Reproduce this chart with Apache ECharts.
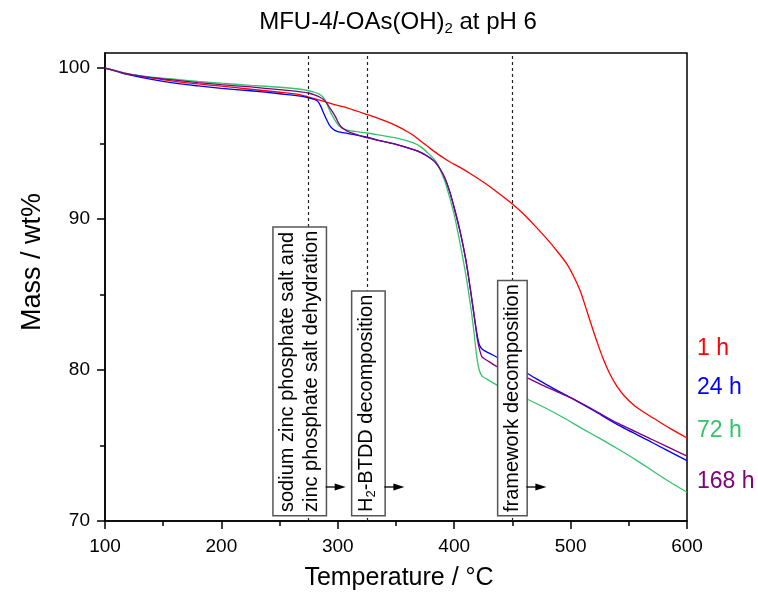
<!DOCTYPE html>
<html>
<head>
<meta charset="utf-8">
<script src="https://cdn.jsdelivr.net/npm/echarts@6/dist/echarts.min.js"></script>
<style>html,body{margin:0;padding:0;background:#fff}#c{width:758px;height:594px}</style>
</head>
<body>
<div id="c"></div>
<script>
// ---------- data ----------
const seriesNames = ['1 h', '24 h', '72 h', '168 h'];

const mass1h = [[100,100],[110,99.8],[120,99.62],[140,99.35],[160,99.12],[180,98.95],[200,98.8],[225,98.6],[250,98.4],[265,98.27],[275,98.08],[285,97.87],[295,97.63],[308,97.37],[325,96.93],[340,96.52],[351,96.16],[360,95.78],[366,95.48],[372,95.12],[379,94.7],[386,94.3],[395,93.85],[405,93.42],[414,93.0],[425,92.45],[437,91.78],[450,91.0],[460,90.3],[470,89.5],[480,88.65],[490,87.72],[497,87.0],[503,86.15],[508,85.3],[513,84.15],[518,82.95],[523,81.8],[528,80.75],[534,79.7],[540,78.9],[546,78.3],[554,77.7],[562,77.25],[571,76.82],[585,76.15],[600,75.5]];

const mass24h = [[100,100],[110,99.78],[120,99.57],[140,99.25],[160,99.0],[180,98.82],[200,98.66],[225,98.5],[250,98.3],[268,98.15],[275,98.03],[280,97.92],[283,97.78],[285.5,97.45],[287.5,97.08],[290,96.65],[293,96.2],[296,95.95],[300,95.8],[308,95.68],[325,95.43],[336,95.2],[350,94.95],[365,94.6],[372,94.38],[379,94.06],[384,93.75],[388,93.3],[392,92.7],[396,91.85],[400,90.75],[405,89.2],[410,87.3],[414,85.3],[417.5,83.4],[420,82.2],[422,81.6],[425,81.32],[430,81.12],[438,80.8],[450,80.3],[462,79.8],[480,79.0],[500,78.17],[520,77.3],[540,76.4],[570,75.2],[600,74.0]];

const mass72h = [[100,100],[110,99.8],[120,99.62],[140,99.4],[160,99.26],[180,99.12],[200,99.0],[225,98.86],[250,98.73],[268,98.6],[275,98.5],[280,98.4],[284,98.28],[287,98.1],[289,97.9],[291,97.55],[293.3,97.15],[296,96.75],[299,96.38],[302,96.12],[305,95.98],[310,95.86],[325,95.7],[336,95.56],[350,95.38],[365,95.05],[372,94.75],[379,94.25],[384,93.85],[388,93.25],[392,92.5],[396,91.45],[400,90.3],[405,88.4],[410,86.3],[414,84.3],[417,82.5],[419.5,80.8],[421.5,80.0],[424,79.6],[428,79.4],[438,78.95],[450,78.5],[462,78.1],[478,77.5],[494,76.84],[510,76.12],[525,75.47],[540,74.8],[556,74.05],[571,73.3],[585,72.6],[600,71.9]];

const mass168h = [[100,100],[110,99.8],[120,99.6],[140,99.37],[160,99.2],[180,99.04],[200,98.9],[225,98.75],[250,98.57],[268,98.43],[275,98.35],[280,98.22],[285,98.05],[288,97.9],[290.5,97.68],[293,97.38],[296,97.04],[298.5,96.7],[300.5,96.38],[303,96.1],[305.5,95.95],[308,95.83],[315,95.62],[322,95.45],[336,95.2],[350,94.95],[365,94.6],[372,94.38],[379,94.06],[384,93.75],[388,93.3],[392,92.7],[396,91.85],[400,90.75],[405,89.2],[410,87.3],[414,85.3],[417.5,83.4],[420,82.0],[422,81.3],[424,80.85],[428,80.65],[438,80.17],[450,79.85],[462,79.5],[480,78.85],[500,78.17],[520,77.35],[540,76.5],[570,75.4],[600,74.3]];

const yTicks = [70, 80, 90, 100];
const yMinorTicks = [75, 85, 95];
const eventTemps = [275, 325, 450];
const eventTexts = [
  'sodium zinc phosphate salt and\nzinc phosphate salt dehydration',
  '{n|H}{s|2}{n|-BTDD decomposition}',
  'framework decomposition'
];

// ---------- styles / layout ----------
const FONT = "'Liberation Sans', Arial, Helvetica, sans-serif";
const colors = ['#ff0000', '#0000ff', '#33c46a', '#800080'];
const seriesData = [mass1h, mass24h, mass72h, mass168h];
const boxOffsets = [-9, 1.5, 0];
const boxPads = [[2,3,2,3],[2,3,6,3],[2,3,2,3]];
const boxLines = [2, 1, 1];
const labelY = [349, 388, 431, 482];

const chart = echarts.init(document.getElementById('c'), null, {renderer: 'canvas'});

const axisCommon = {
  axisLine: {show: true, onZero: false, lineStyle: {color: '#000', width: 1.5}},
  splitLine: {show: false}
};

chart.setOption({
  animation: false,
  grid: {left: 105, right: 71, top: 53, bottom: 73, containLabel: false, outerBoundsMode: 'none',
         show: true, borderColor: '#000', borderWidth: 1.5},
  xAxis: Object.assign({
    type: 'value', min: 100, max: 600, interval: 100,
    name: 'Temperature / °C', nameLocation: 'middle', nameGap: 45,
    nameTextStyle: {fontSize: 25, color: '#000', fontFamily: FONT, padding: [0, 0, 0, 6]},
    axisTick: {show: true, length: 8, lineStyle: {color: '#000', width: 1.5}},
    minorTick: {show: true, splitNumber: 2, length: 5, lineStyle: {color: '#000', width: 1.5}},
    axisLabel: {fontSize: 19, color: '#000', margin: 16, fontFamily: FONT}
  }, axisCommon),
  yAxis: [
    Object.assign({
      type: 'value', min: 70, max: 101, interval: 10,
      axisTick: {show: true, length: 8, customValues: yTicks, lineStyle: {color: '#000', width: 1.5}},
      axisLabel: {fontSize: 19, color: '#000', margin: 15, fontFamily: FONT, customValues: yTicks}
    }, axisCommon),
    {
      type: 'value', min: 70, max: 101, position: 'left',
      axisLine: {show: false},
      axisLabel: {show: false},
      splitLine: {show: false},
      axisTick: {show: true, length: 5, customValues: yMinorTicks, lineStyle: {color: '#000', width: 1.5}}
    }
  ],
  series: seriesData.map((d, i) => ({
    type: 'line', name: seriesNames[i], data: d, yAxisIndex: 0,
    symbol: 'none', showSymbol: false, silent: true,
    smooth: 0.25,
    lineStyle: {color: colors[i], width: 1.3},
    z: 2 + i,
    markLine: i === 0 ? {
      silent: true, symbol: ['none', 'none'], label: {show: false},
      lineStyle: {color: '#222', type: [3, 3], width: 1.2},
      data: eventTemps.map(t => ({xAxis: t}))
    } : undefined
  }))
});

// ---------- annotations ----------
const baseY = chart.convertToPixel({yAxisIndex: 0}, 70);
const g = [];
eventTemps.forEach((t, i) => {
  const lx = chart.convertToPixel({xAxisIndex: 0}, t);
  const cx = lx + boxOffsets[i];
  const by = baseY - 6;
  const pad = boxPads[i];
  const w = boxLines[i] * 24 + pad[0] + pad[2];
  g.push({
    type: 'text', x: cx, y: by, rotation: Math.PI / 2, z: 100, silent: true,
    style: {
      text: eventTexts[i],
      fill: '#000', fontSize: 20, fontFamily: FONT, lineHeight: 24,
      align: 'left', verticalAlign: 'middle',
      backgroundColor: '#fff', borderColor: '#555', borderWidth: 1.5,
      padding: pad,
      rich: {
        n: {fontSize: 20, fontFamily: FONT, lineHeight: 24, fill: '#000'},
        s: {fontSize: 13, fontFamily: FONT, lineHeight: 17, verticalAlign: 'bottom', fill: '#000'}
      }
    }
  });
  const ay = baseY - 34;
  const x0 = cx + w / 2;
  const tip = x0 + 20;
  g.push({type: 'line', z: 100, silent: true, shape: {x1: x0, y1: ay, x2: tip - 9, y2: ay}, style: {stroke: '#000', lineWidth: 1.3}});
  g.push({type: 'polygon', z: 100, silent: true, shape: {points: [[tip, ay], [tip - 11, ay - 3.5], [tip - 11, ay + 3.5]]}, style: {fill: '#000'}});
});

// y axis title
g.push({type: 'text', x: 33, y: 262, rotation: Math.PI / 2, z: 100, silent: true,
  style: {text: 'Mass / wt%', fill: '#000', fontSize: 27, fontFamily: FONT, align: 'center', verticalAlign: 'middle'}});

// curve labels
seriesNames.forEach((n, i) => {
  g.push({type: 'text', x: 697, y: labelY[i], z: 100, silent: true,
    style: {text: n, fill: colors[i], fontSize: 23, fontFamily: FONT, align: 'left', verticalAlign: 'middle'}});
});

// title
g.push({type: 'text', x: 398, y: 22, z: 100, silent: true,
  style: {
    text: '{n|MFU-4}{i|l}{n|-OAs(OH)}{s|2}{n| at pH 6}',
    align: 'center', verticalAlign: 'middle',
    rich: {
      n: {fontSize: 24, fontFamily: FONT, fill: '#000', lineHeight: 28},
      i: {fontSize: 24, fontFamily: FONT, fontStyle: 'italic', fill: '#000', lineHeight: 28},
      s: {fontSize: 15, fontFamily: FONT, fill: '#000', lineHeight: 8, verticalAlign: 'bottom'}
    }
  }});

chart.setOption({graphic: {elements: g}});
</script>
</body>
</html>
